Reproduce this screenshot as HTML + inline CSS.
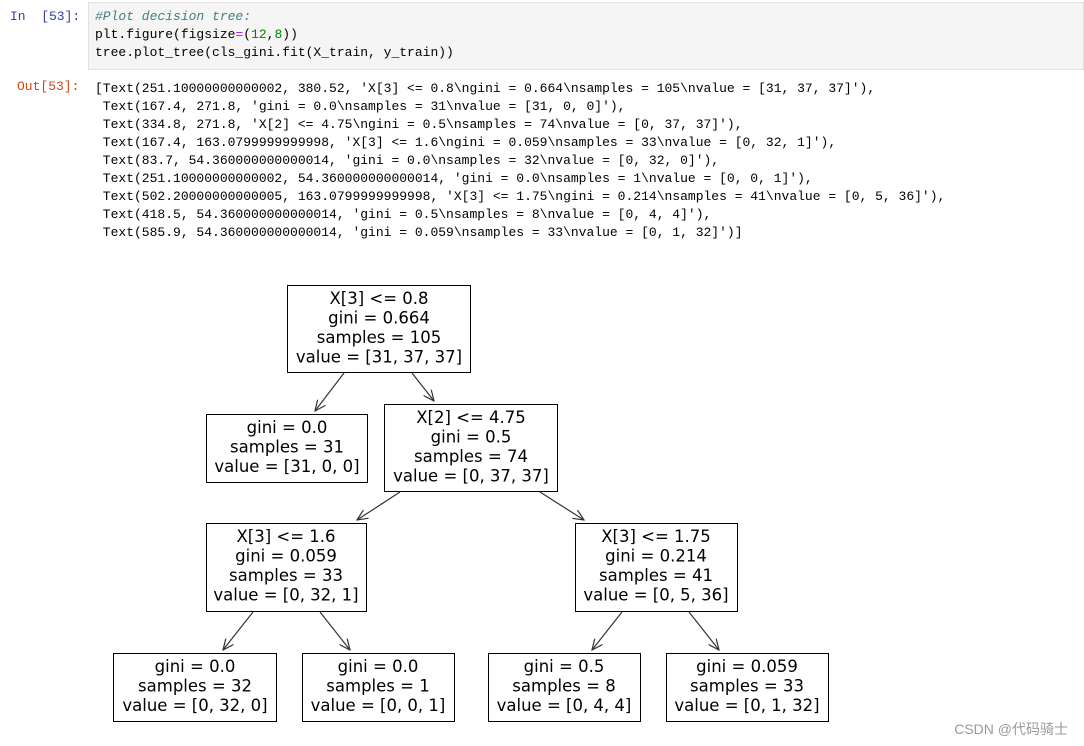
<!DOCTYPE html>
<html><head><meta charset="utf-8"><style>
body{margin:0;width:1084px;height:746px;background:#fff;position:relative;overflow:hidden;font-family:"Liberation Mono",monospace;}
.p{position:absolute;font-size:13px;white-space:pre;line-height:18px;}
.cell{position:absolute;left:88px;top:2px;width:996px;height:68px;background:#f5f5f5;border:1px solid #e0e0e0;box-sizing:border-box;}
</style></head><body>
<div class="p" style="left:10px;top:8px;color:#303f9f">In  [53]:</div>
<div class="cell"></div>
<div class="p" style="left:95px;top:8px;color:#000"><span style="color:#408080;font-style:italic">#Plot decision tree:</span>
plt.figure(figsize<span style="color:#aa22ff">=</span>(<span style="color:#008000">12</span>,<span style="color:#008000">8</span>))
tree.plot_tree(cls_gini.fit(X_train, y_train))</div>
<div class="p" style="left:17px;top:78px;color:#d84315">Out[53]:</div>
<div class="p" style="left:95px;top:80px;color:#000">[Text(251.10000000000002, 380.52, 'X[3] &lt;= 0.8\ngini = 0.664\nsamples = 105\nvalue = [31, 37, 37]'),
 Text(167.4, 271.8, 'gini = 0.0\nsamples = 31\nvalue = [31, 0, 0]'),
 Text(334.8, 271.8, 'X[2] &lt;= 4.75\ngini = 0.5\nsamples = 74\nvalue = [0, 37, 37]'),
 Text(167.4, 163.0799999999998, 'X[3] &lt;= 1.6\ngini = 0.059\nsamples = 33\nvalue = [0, 32, 1]'),
 Text(83.7, 54.360000000000014, 'gini = 0.0\nsamples = 32\nvalue = [0, 32, 0]'),
 Text(251.10000000000002, 54.360000000000014, 'gini = 0.0\nsamples = 1\nvalue = [0, 0, 1]'),
 Text(502.20000000000005, 163.0799999999998, 'X[3] &lt;= 1.75\ngini = 0.214\nsamples = 41\nvalue = [0, 5, 36]'),
 Text(418.5, 54.360000000000014, 'gini = 0.5\nsamples = 8\nvalue = [0, 4, 4]'),
 Text(585.9, 54.360000000000014, 'gini = 0.059\nsamples = 33\nvalue = [0, 1, 32]')]</div>
<svg width="1084" height="746" style="position:absolute;left:0;top:0" font-family="DejaVu Sans, sans-serif" font-size="16.5">
<defs><marker id="a" markerWidth="12" markerHeight="10" refX="11" refY="5" orient="auto" markerUnits="userSpaceOnUse"><path d="M0,0 L11,5 L0,10" fill="none" stroke="#333" stroke-width="1.2"/></marker></defs>
<g fill="#fff" stroke="#000" stroke-width="1">
<rect x="287.5" y="285.5" width="183" height="87"/>
<rect x="206.5" y="414.5" width="161" height="68"/>
<rect x="384.5" y="404.5" width="173" height="87"/>
<rect x="206.5" y="523.5" width="160" height="88"/>
<rect x="575.5" y="523.5" width="162" height="88"/>
<rect x="113.5" y="653.5" width="163" height="68"/>
<rect x="302.5" y="653.5" width="152" height="68"/>
<rect x="488.5" y="653.5" width="152" height="68"/>
<rect x="666.5" y="653.5" width="162" height="68"/>
</g>
<g stroke="#333" stroke-width="1.2" marker-end="url(#a)">
<line x1="344" y1="373" x2="315" y2="411"/>
<line x1="412" y1="373" x2="434" y2="401"/>
<line x1="400" y1="492" x2="357" y2="520"/>
<line x1="540" y1="492" x2="584" y2="520"/>
<line x1="253" y1="612" x2="223" y2="650"/>
<line x1="320" y1="612" x2="350" y2="650"/>
<line x1="622" y1="612" x2="592" y2="650"/>
<line x1="689" y1="612" x2="719" y2="650"/>
</g>
<g text-anchor="middle" fill="#000">
<text x="379" y="304">X[3] &lt;= 0.8</text><text x="379" y="323.5">gini = 0.664</text><text x="379" y="343">samples = 105</text><text x="379" y="362.5">value = [31, 37, 37]</text>
<text x="287" y="433">gini = 0.0</text><text x="287" y="452.5">samples = 31</text><text x="287" y="472">value = [31, 0, 0]</text>
<text x="471" y="423">X[2] &lt;= 4.75</text><text x="471" y="442.5">gini = 0.5</text><text x="471" y="462">samples = 74</text><text x="471" y="481.5">value = [0, 37, 37]</text>
<text x="286" y="542">X[3] &lt;= 1.6</text><text x="286" y="561.5">gini = 0.059</text><text x="286" y="581">samples = 33</text><text x="286" y="600.5">value = [0, 32, 1]</text>
<text x="656" y="542">X[3] &lt;= 1.75</text><text x="656" y="561.5">gini = 0.214</text><text x="656" y="581">samples = 41</text><text x="656" y="600.5">value = [0, 5, 36]</text>
<text x="195" y="672">gini = 0.0</text><text x="195" y="691.5">samples = 32</text><text x="195" y="711">value = [0, 32, 0]</text>
<text x="378" y="672">gini = 0.0</text><text x="378" y="691.5">samples = 1</text><text x="378" y="711">value = [0, 0, 1]</text>
<text x="564" y="672">gini = 0.5</text><text x="564" y="691.5">samples = 8</text><text x="564" y="711">value = [0, 4, 4]</text>
<text x="747" y="672">gini = 0.059</text><text x="747" y="691.5">samples = 33</text><text x="747" y="711">value = [0, 1, 32]</text>
</g>
<text x="1068" y="734" text-anchor="end" font-family="Liberation Sans, Noto Sans CJK SC, sans-serif" font-size="14" fill="#999">CSDN @代码骑士</text>
</svg>
</body></html>
